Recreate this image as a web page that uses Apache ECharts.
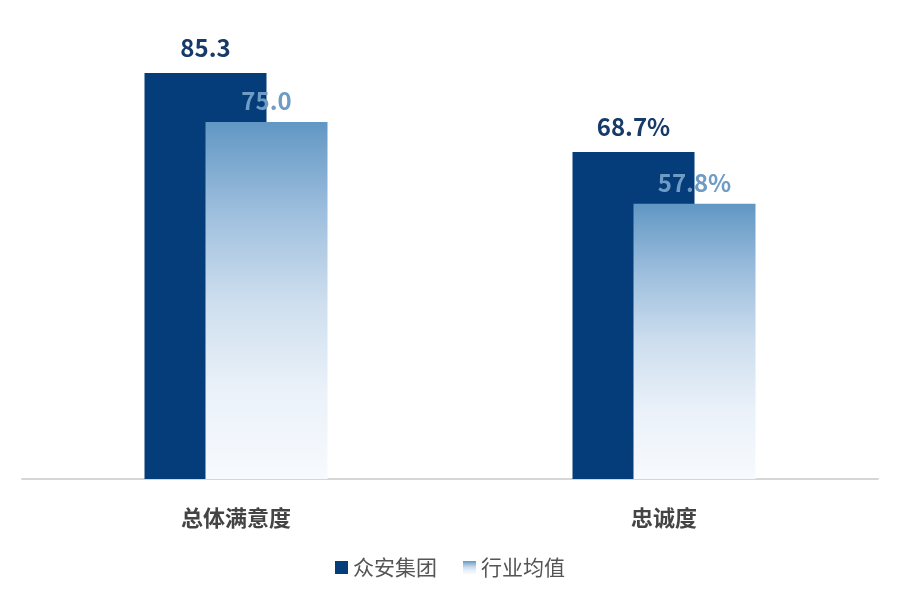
<!DOCTYPE html>
<html><head><meta charset="utf-8">
<script src="https://cdn.jsdelivr.net/npm/echarts@6/dist/echarts.min.js"></script>
<style>html,body{margin:0;padding:0;background:#fff}#c{width:900px;height:600px}</style>
</head><body><div id="c"></div>
<script>
const categories = ['总体满意度', '忠诚度'];
const seriesNames = ['众安集团', '行业均值'];
const zhongan = [85.3, 68.7];
const industry = [75.0, 57.8];
const labelSuffix = ['', '%'];

const FONT = '"Noto Sans CJK SC", "Noto Sans", sans-serif';
const chart = echarts.init(document.getElementById('c'));
const fmt = p => p.value.toFixed(1) + labelSuffix[p.dataIndex];
chart.setOption({
  animation: false,
  grid: { left: 22, right: 22, top: 3, bottom: 121 },
  legend: {
    bottom: 17, left: 'center', itemWidth: 13, itemHeight: 13, itemGap: 26,
    textStyle: { fontFamily: FONT, fontSize: 21, color: '#555' },
    data: [
      { name: seriesNames[0], icon: 'rect' },
      { name: seriesNames[1], icon: 'rect' }
    ]
  },
  xAxis: {
    type: 'category', data: categories,
    axisLine: { lineStyle: { color: '#d6d6d6', width: 2 } },
    axisTick: { show: false },
    axisLabel: { fontFamily: FONT, fontSize: 22, fontWeight: 'bold', color: '#444', margin: 28 }
  },
  yAxis: { type: 'value', min: 0, max: 100, show: false, splitLine: { show: false } },
  series: [
    {
      name: seriesNames[0], type: 'bar', data: zhongan, barWidth: 122, barGap: '-50%',
      itemStyle: { color: '#053d7a' },
      label: { show: true, position: 'top', distance: 13, formatter: fmt,
        fontFamily: FONT, fontSize: 24, fontWeight: 'bold', color: '#173b69' }
    },
    {
      name: seriesNames[1], type: 'bar', data: industry, barWidth: 122,
      itemStyle: { color: new echarts.graphic.LinearGradient(0, 0, 0, 1, [
        { offset: 0, color: '#6197c4' },
        { offset: 0.25, color: '#9dbedd' },
        { offset: 0.5, color: '#cddeee' },
        { offset: 0.75, color: '#eaf1f9' },
        { offset: 1, color: '#f7fafe' }]) },
      label: { show: true, position: 'top', distance: 9, formatter: fmt,
        fontFamily: FONT, fontSize: 24, fontWeight: 'bold', color: '#6f9cc4' }
    }
  ]
});
</script></body></html>
